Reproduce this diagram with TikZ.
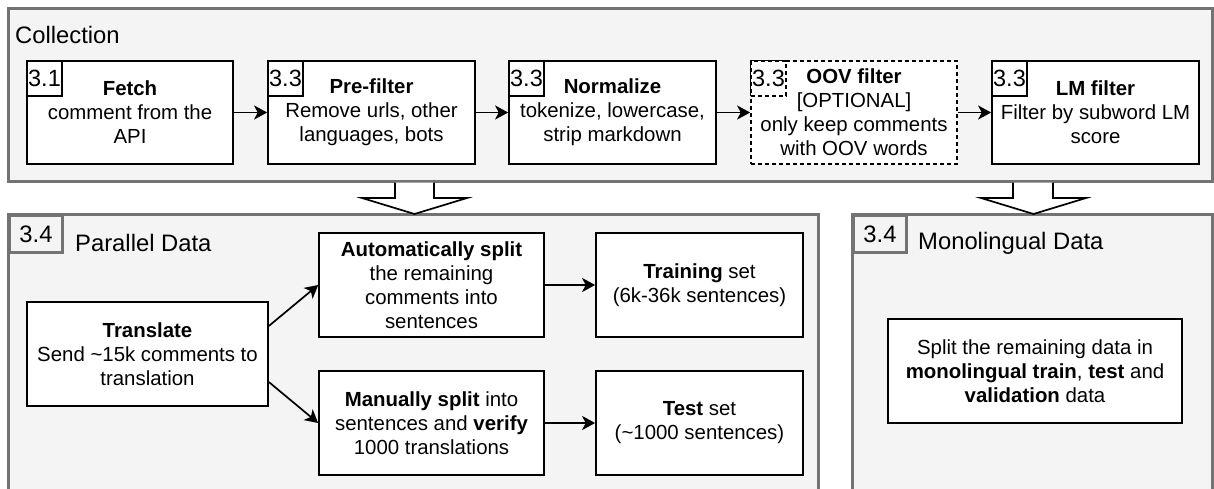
\documentclass[tikz,border=0pt]{standalone}
\usepackage{fontspec}
\setmainfont{Liberation Sans}
\usetikzlibrary{arrows.meta}
\definecolor{contgray}{HTML}{737373}
\definecolor{contfill}{HTML}{F4F4F4}
\newcommand{\bodyfs}{\fontsize{20.4}{24}\selectfont}
\newcommand{\numfs}{\fontsize{23.5}{26}\selectfont}
\newcommand{\titlefs}{\fontsize{23.8}{28}\selectfont}
\begin{document}
\begin{tikzpicture}[x=1pt,y=-1pt,
  container/.style={draw=contgray, line width=3pt, fill=contfill},
  stepbox/.style={draw=black, line width=1.7pt, fill=white, align=center, font=\bodyfs, inner sep=0pt, minimum height=103pt},
  numbox/.style={draw=black, line width=1.7pt, fill=white, font=\numfs, minimum size=35pt, inner sep=0pt, anchor=north west},
  secnum/.style={draw=contgray, line width=3pt, fill=contfill, font=\titlefs, minimum width=53pt, minimum height=37pt, inner sep=0pt, anchor=north west},
  title/.style={font=\titlefs, anchor=west, inner sep=0pt},
  flow/.style={-{Stealth[length=13pt,width=14pt,inset=3.5pt]}, line width=1.7pt},
  blockarrow/.style={draw=black, line width=1.7pt, fill=white, line join=miter},
]
\useasboundingbox (0,0) rectangle (1214,488);
\clip (0,0) rectangle (1214,488);

% containers
\draw[container] (8,8) rectangle (1212,181);
\node[title] (colltitle) at (15,35) {Collection};
\draw[container] (8,214) rectangle (818,500);
\draw[container] (852,214) rectangle (1212,500);
\node[secnum] (pnum) at (8,214) {3.4};
\node[title] (ptitle) at (75,243) {Parallel Data};
\node[secnum] (mnum) at (852,214) {3.4};
\node[title] (mtitle) at (918,243) {Monolingual Data};

% block arrows
\draw[blockarrow] (395,182.5) -- (395,198) -- (362,198) -- (414.5,214) -- (467,198) -- (434,198) -- (434,182.5);
\draw[blockarrow] (1013,182.5) -- (1013,198) -- (981,198) -- (1033.5,214) -- (1086,198) -- (1053,198) -- (1053,182.5);

% collection steps
\node[stepbox, minimum width=206pt] (fetch) at (130,112.5) {\textbf{Fetch}\\comment from the\\API};
\node[stepbox, minimum width=207pt] (pre) at (371.5,112.5) {\textbf{Pre-filter}\\Remove urls, other\\languages, bots};
\node[stepbox, minimum width=207pt] (norm) at (612.5,112.5) {\textbf{Normalize}\\tokenize, lowercase,\\strip markdown};
\node[stepbox, minimum width=206pt, dashed, dash pattern=on 4pt off 3pt] (oov) at (854,112.5) {\textbf{OOV filter}\\{[OPTIONAL]}\\only keep comments\\with OOV words};
\node[stepbox, minimum width=207pt] (lm) at (1095.5,112.5) {\textbf{LM filter}\\Filter by subword LM\\score};

\node[numbox] (n1) at (fetch.north west) {3.1};
\node[numbox] (n2) at (pre.north west) {3.3};
\node[numbox] (n3) at (norm.north west) {3.3};
\node[numbox, dash pattern=on 4pt off 3pt] (n4) at (oov.north west) {3.3};
\node[numbox] (n5) at (lm.north west) {3.3};

\draw[flow] (fetch) -- (pre);
\draw[flow] (pre) -- (norm);
\draw[flow] (norm) -- (oov);
\draw[flow] (oov) -- (lm);

% parallel data
\node[stepbox, minimum width=241pt, minimum height=104pt] (tr) at (147.5,354) {\textbf{Translate}\\Send \textasciitilde 15k comments to\\translation};
\node[stepbox, minimum width=225pt, minimum height=104pt] (auto) at (431.5,285) {\textbf{Automatically split}\\the remaining\\comments into\\sentences};
\node[stepbox, minimum width=225pt, minimum height=104pt] (man) at (431.5,423) {\textbf{Manually split} into\\sentences and \textbf{verify}\\1000 translations};
\node[stepbox, minimum width=207pt, minimum height=104pt] (train) at (699.5,285) {\textbf{Training} set\\(6k-36k sentences)};
\node[stepbox, minimum width=207pt, minimum height=104pt] (test) at (699.5,423) {\textbf{Test} set\\(\textasciitilde 1000 sentences)};

\draw[flow] (tr.13) -- (auto.west);
\draw[flow] (tr.-13) -- (man.west);
\draw[flow] (auto) -- (train);
\draw[flow] (man) -- (test);

% monolingual
\node[stepbox, minimum width=294pt, minimum height=104pt] (mono) at (1035,371) {Split the remaining data in\\\textbf{monolingual train}, \textbf{test} and\\\textbf{validation} data};
\end{tikzpicture}
\end{document}
